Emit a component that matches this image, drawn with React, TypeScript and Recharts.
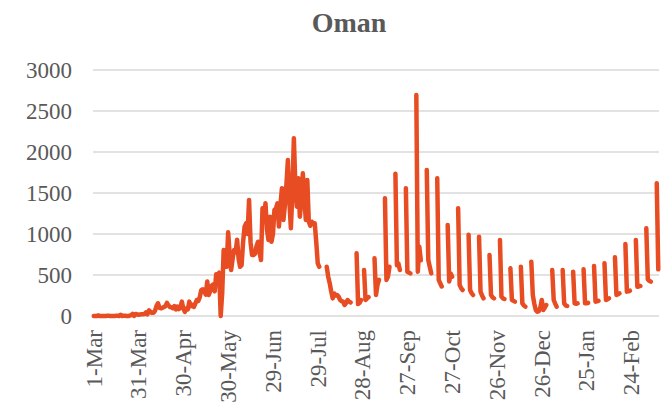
import { LineChart, Line, XAxis, YAxis, CartesianGrid } from 'recharts';

const LINE_COLOR = '#e84c22';
const TEXT_COLOR = '#595959';
const GRID_COLOR = '#d9d9d9';
const FONT = '"Liberation Serif", "Times New Roman", serif';

// daily new cases, 1 Mar 2020 .. 14 Mar 2021 (null = nothing reported that day)
const mar20 = [0, 0, 0, 6, 0, 0, 0, 0, 0, 2, 2, 0, 0, 1, 1, 2, 2, 0, 15, 0, 4, 4, 0, 0, 3, 10, 26, 2, 25, 21, 15];
const apr20 = [18, 20, 21, 25, 45, 21, 70, 52, 38, 40, 62, 120, 155, 100, 95, 100, 110, 120, 160, 130, 110, 105, 95, 120, 80, 115, 85, 100, 175, 90];
const may20 = [50, 90, 81, 175, 120, 135, 110, 150, 195, 183, 230, 317, 325, 300, 260, 420, 256, 300, 370, 386, 300, 510, 470, 530, 0, 276, 805, 700, 600, 1020, 760];
const jun20 = [560, 700, 805, 780, 930, 700, 600, 620, 900, 1090, 1130, 1000, 1415, 900, 745, 745, 760, 850, 906, 780, 683, 1313, 1200, 1374, 1050, 927, 1211, 905, 1000, 1293];
const jul20 = [1310, 1374, 1090, 1350, 1557, 1171, 1350, 1598, 1902, 1400, 1069, 1500, 2167, 1600, 1333, 1679, 1211, 1400, 1740, 1450, 1171, 1658, 1150, 1100, 1150, 1130, 1130, 900, 642, 600, null];
const aug20 = [null, null, null, 600, 480, 400, 300, 215, 275, 250, 256, 235, 195, 180, 175, 134, 160, 195, 175, 165, null, null, null, 765, 145, 160, 195, null, 560, 195, 215];
const sep20 = [230, null, null, null, 703, 256, 380, 440, null, null, null, 1435, 440, 480, 600, null, null, null, 1735, 620, 640, 560, null, null, null, 1557, 540, 530, 520, null];
const oct20 = [null, null, 2695, 540, 845, 680, null, null, null, 1780, 683, 600, 520, null, null, null, 1680, 440, 400, 360, null, null, null, 1110, 420, 520, 480, null, null, null, 1313];
const nov20 = [380, 340, 317, null, null, null, 990, 317, 280, 256, null, null, null, 967, 297, 250, 215, null, null, null, 744, 256, 230, 215, null, null, null, 927, 236, 215];
const dec20 = [207, null, null, null, 581, 195, 185, 175, null, null, null, 600, 154, 130, 114, null, null, null, 663, 256, 150, 73, 52, 60, 100, 195, 73, 100, 134, null, null];
const jan21 = [null, 561, 195, 150, 114, null, null, null, 561, 154, 130, 122, null, null, null, 540, 154, 150, 154, null, null, null, 569, 154, 155, 160, null, null, null, 610, 175];
const feb21 = [180, 185, null, null, null, 642, 195, 205, 215, null, null, null, 715, 256, 265, 276, null, null, null, 878, 297, 300, 309, null, null, null, 927, 358];
const mar21 = [360, 366, null, null, null, 1069, 447, 430, 419, null, null, null, 1618, 569];

const cases: (number | null)[] = [
  ...mar20, ...apr20, ...may20, ...jun20, ...jul20, ...aug20, ...sep20,
  ...oct20, ...nov20, ...dec20, ...jan21, ...feb21, ...mar21,
];

const yTicks = [0, 500, 1000, 1500, 2000, 2500, 3000];
const tickDays = [0, 30, 60, 90, 120, 150, 180, 210, 240, 270, 300, 330, 360];
const tickLabels = ['1-Mar', '31-Mar', '30-Apr', '30-May', '29-Jun', '29-Jul', '28-Aug', '27-Sep', '27-Oct', '26-Nov', '26-Dec', '25-Jan', '24-Feb'];

const data = cases.map((v, i) => ({ day: i, cases: v }));

function DateTick({ x, y, payload }: any) {
  const label = tickLabels[tickDays.indexOf(payload.value)];
  return (
    <text
      x={0}
      y={0}
      transform={`translate(${x},${y}) rotate(-90)`}
      textAnchor="end"
      dy="0.34em"
      fill={TEXT_COLOR}
      fontSize={23}
      fontFamily={FONT}
    >
      {label}
    </text>
  );
}

export default function App() {
  return (
    <div style={{ position: 'relative', width: 661, height: 410, background: '#fff' }}>
      <style>{'body { margin: 0; }'}</style>
      <svg width={661} height={50} style={{ position: 'absolute', left: 0, top: 0 }}>
        <text x={349} y={32} textAnchor="middle" fontSize={28} fontWeight="bold" fontFamily={FONT} fill={TEXT_COLOR}>
          Oman
        </text>
      </svg>
      <LineChart width={661} height={410} data={data} margin={{ top: 70, right: 2, bottom: 0, left: 0 }}>
        <CartesianGrid vertical={false} stroke={GRID_COLOR} strokeWidth={1.3} />
        <XAxis
          dataKey="day"
          type="number"
          domain={[-0.5, 378.5]}
          ticks={tickDays}
          interval={0}
          tick={<DateTick />}
          tickLine={false}
          axisLine={false}
          tickSize={0}
          tickMargin={14}
          height={94}
        />
        <YAxis
          domain={[0, 3000]}
          ticks={yTicks}
          width={93}
          tickLine={false}
          axisLine={false}
          tickSize={0}
          tickMargin={21}
          tick={{ fill: TEXT_COLOR, fontSize: 23, fontFamily: FONT }}
        />
        <Line
          type="linear"
          dataKey="cases"
          stroke={LINE_COLOR}
          strokeWidth={4.5}
          strokeLinecap="round"
          strokeLinejoin="round"
          dot={false}
          activeDot={false}
          connectNulls={false}
          isAnimationActive={false}
        />
      </LineChart>
    </div>
  );
}
